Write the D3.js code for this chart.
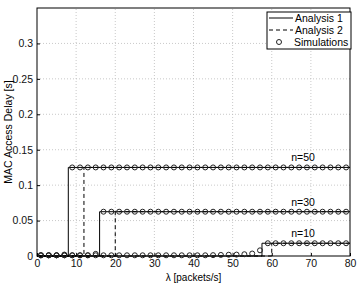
<!DOCTYPE html>
<html>
<head>
<meta charset="utf-8">
<script src="https://cdn.jsdelivr.net/npm/d3@7"></script>
<style>
body { margin: 0; background: #fff; }
text { font-family: "Liberation Sans", Arial, sans-serif; }
</style>
</head>
<body>
<script>
var width = 360,
    height = 283,
    margin = {top: 8, right: 10, bottom: 27, left: 37};

// data
var curveNames = ["n=50", "n=30", "n=10"];
var levels = [0.125, 0.0625, 0.018];
var analysis1Steps = [8, 16, 57.5];
var analysis2Steps = [12, 20, 60];
var simX = [1, 3, 5, 7, 9, 11, 13, 15, 17, 19, 21, 23, 25, 27, 29, 31, 33, 35, 37, 39,
            41, 43, 45, 47, 49, 51, 53, 55, 57, 59, 61, 63, 65, 67, 69, 71, 73, 75, 77, 79];
var sim50 = [0.001, 0.001, 0.001, 0.002, 0.125, 0.125, 0.125, 0.125, 0.125, 0.125,
             0.125, 0.125, 0.125, 0.125, 0.125, 0.125, 0.125, 0.125, 0.125, 0.125,
             0.125, 0.125, 0.125, 0.125, 0.125, 0.125, 0.125, 0.125, 0.125, 0.125,
             0.125, 0.125, 0.125, 0.125, 0.125, 0.125, 0.125, 0.125, 0.125, 0.125];
var sim30 = [0.001, 0.001, 0.001, 0.001, 0.001, 0.001, 0.001, 0.003, 0.0625, 0.0625,
             0.0625, 0.0625, 0.0625, 0.0625, 0.0625, 0.0625, 0.0625, 0.0625, 0.0625, 0.0625,
             0.0625, 0.0625, 0.0625, 0.0625, 0.0625, 0.0625, 0.0625, 0.0625, 0.0625, 0.0625,
             0.0625, 0.0625, 0.0625, 0.0625, 0.0625, 0.0625, 0.0625, 0.0625, 0.0625, 0.0625];
var sim10 = [0.001, 0.001, 0.001, 0.001, 0.001, 0.001, 0.001, 0.001, 0.001, 0.001,
             0.001, 0.001, 0.001, 0.001, 0.001, 0.001, 0.001, 0.001, 0.001, 0.001,
             0.001, 0.001, 0.0012, 0.0015, 0.0018, 0.002, 0.0025, 0.0035, 0.008, 0.018,
             0.018, 0.018, 0.018, 0.018, 0.018, 0.018, 0.018, 0.018, 0.018, 0.018];
var simSeries = [sim50, sim30, sim10];
var xTicks = [0, 10, 20, 30, 40, 50, 60, 70, 80];
var yTicks = [0, 0.05, 0.1, 0.15, 0.2, 0.25, 0.3];
var legendItems = ["Analysis 1", "Analysis 2", "Simulations"];

var x = d3.scaleLinear().domain([0, 80]).range([margin.left, width - margin.right]);
var y = d3.scaleLinear().domain([0, 0.35]).range([height - margin.bottom, margin.top]);

var svg = d3.select("body").append("svg")
    .attr("width", width)
    .attr("height", height);

// grid
svg.append("g").selectAll("line.gx")
    .data(xTicks.slice(1, -1))
    .enter().append("line")
    .attr("x1", function(d) { return x(d); })
    .attr("x2", function(d) { return x(d); })
    .attr("y1", y(0)).attr("y2", y(0.35))
    .style("stroke", "#bbb").style("stroke-width", 0.8).style("stroke-dasharray", "1,2");
svg.append("g").selectAll("line.gy")
    .data(yTicks.slice(1))
    .enter().append("line")
    .attr("y1", function(d) { return y(d); })
    .attr("y2", function(d) { return y(d); })
    .attr("x1", x(0)).attr("x2", x(80))
    .style("stroke", "#bbb").style("stroke-width", 0.8).style("stroke-dasharray", "1,2");

// axes, matlab style ticks pointing in
var xAxis = svg.append("g")
    .attr("transform", "translate(0," + y(0) + ")")
    .call(d3.axisBottom(x).tickValues(xTicks).tickFormat(d3.format("d")).tickSizeInner(-3).tickSizeOuter(0).tickPadding(3));
var yAxis = svg.append("g")
    .attr("transform", "translate(" + x(0) + ",0)")
    .call(d3.axisLeft(y).tickValues(yTicks).tickFormat(function(d) { return d === 0 ? "0" : String(+d.toFixed(2)); }).tickSizeInner(-3).tickSizeOuter(0).tickPadding(4));
[xAxis, yAxis].forEach(function(a) {
    a.select(".domain").remove();
    a.selectAll("text").style("font-size", "10.5px").style("fill", "#111");
    a.selectAll("line").style("stroke", "#000");
});
xAxis.selectAll("text").attr("dy", "0.72em");

// frame
svg.append("rect")
    .attr("x", x(0)).attr("y", y(0.35))
    .attr("width", x(80) - x(0)).attr("height", y(0) - y(0.35))
    .style("fill", "none").style("stroke", "#000").style("stroke-width", 1);

var line = d3.line()
    .x(function(d) { return x(d[0]); })
    .y(function(d) { return y(d[1]); })
    .curve(d3.curveStepAfter);

function stepPoints(step, level) {
    return [[0, 0], [step, level], [80, level]];
}

levels.forEach(function(lv, i) {
    svg.append("path")
        .attr("d", line(stepPoints(analysis2Steps[i], lv)))
        .style("fill", "none").style("stroke", "#000").style("stroke-width", 1)
        .style("stroke-dasharray", "4,3");
    svg.append("path")
        .attr("d", line(stepPoints(analysis1Steps[i], lv)))
        .style("fill", "none").style("stroke", "#000").style("stroke-width", 1);
});

simSeries.forEach(function(s) {
    svg.append("g").selectAll("circle")
        .data(simX)
        .enter().append("circle")
        .attr("cx", function(d) { return x(d); })
        .attr("cy", function(d, i) { return y(s[i]); })
        .attr("r", 2.5)
        .style("fill", "none").style("stroke", "#222").style("stroke-width", 1);
});

// curve labels
curveNames.forEach(function(n, i) {
    svg.append("text")
        .attr("x", x(68))
        .attr("y", y(levels[i]) - 6)
        .attr("text-anchor", "middle")
        .style("font-size", "10.5px")
        .text(n);
});

// legend
var lg = svg.append("g").attr("transform", "translate(267,12)");
lg.append("rect")
    .attr("width", 84).attr("height", 37)
    .style("fill", "#fff").style("stroke", "#000").style("stroke-width", 1);
lg.append("line").attr("x1", 2).attr("x2", 26).attr("y1", 6).attr("y2", 6)
    .style("stroke", "#000");
lg.append("line").attr("x1", 2).attr("x2", 26).attr("y1", 18).attr("y2", 18)
    .style("stroke", "#000").style("stroke-dasharray", "4,3");
lg.append("circle").attr("cx", 12).attr("cy", 30).attr("r", 2.5)
    .style("fill", "none").style("stroke", "#222");
lg.selectAll("text.leg")
    .data(legendItems)
    .enter().append("text")
    .attr("x", function(d, i) { return i === 2 ? 27 : 28; })
    .attr("y", function(d, i) { return 6 + i * 12; })
    .attr("dy", "0.35em")
    .style("font-size", "10.5px")
    .text(function(d) { return d; });

// axis titles
svg.append("text")
    .attr("x", (x(0) + x(80)) / 2)
    .attr("y", 281)
    .attr("text-anchor", "middle")
    .style("font-size", "10px")
    .text("λ [packets/s]");
svg.append("text")
    .attr("transform", "translate(12," + ((y(0) + y(0.35)) / 2) + ") rotate(-90)")
    .attr("text-anchor", "middle")
    .style("font-size", "10.5px")
    .text("MAC Access Delay [s]");
</script>
</body>
</html>
